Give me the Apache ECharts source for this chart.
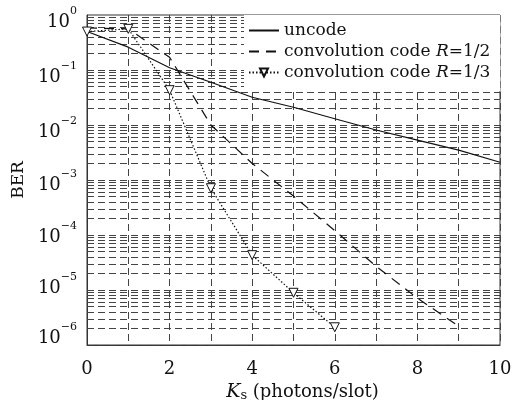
<!DOCTYPE html>
<html>
<head>
<meta charset="utf-8">
<script src="https://cdn.jsdelivr.net/npm/echarts@6/dist/echarts.min.js"></script>
<style>
html, body { margin: 0; padding: 0; background: #fff; }
#main { width: 512px; height: 400px; }
</style>
</head>
<body>
<div id="main"></div>
<script>
// Ks (photons/slot)
var ks = [0, 1, 2, 3, 4, 5, 6, 7, 8, 9, 10];
// BER values
var uncode = [0.5, 0.26, 0.11, 0.06, 0.032, 0.021, 0.013, 0.0081, 0.0053, 0.0035, 0.0021];
var conv12 = [0.58, 0.56, 0.17, 0.01, 0.002, 0.00051, 0.00012, 0.000027, 0.0000071, 0.0000022];
var conv13 = [0.5, 0.56, 0.043, 0.00071, 0.000043, 0.0000089, 0.0000021];
var seriesNames = ['uncode', 'convolution code R=1/2', 'convolution code R=1/3'];
// minor grid: 1..9 x 10^n
var gridMults = [1, 2, 3, 4, 5, 6, 7, 8, 9];
var gridExps = [-6, -5, -4, -3, -2, -1];

var FONT = 'DejaVu Serif';
var GRIDCOL = '#444';
// how far each y label sits from its tick (the source figure squeezes them)
var labelShift = { '0': 7, '-1': 7, '-2': 7, '-3': 5, '-4': 2, '-5': -2, '-6': -7 };

function pairs(ys) {
    var out = [];
    for (var i = 0; i < ys.length; i++) out.push([ks[i], ys[i]]);
    return out;
}

function pad(o) {
    return o >= 0 ? [2 * o, 0, 0, 0] : [0, 0, -2 * o, 0];
}

var gridLines = [];
for (var e = 0; e < gridExps.length; e++) {
    for (var m = 0; m < gridMults.length; m++) {
        var v = gridMults[m] * Math.pow(10, gridExps[e]);
        gridLines.push({ coords: [[ks[0], v], [ks[ks.length - 1], v]] });
    }
}

var yRich = {};
for (var p = 0; p >= -6; p--) {
    var o = labelShift[String(p)];
    yRich['b' + (-p)] = { fontFamily: FONT, fontSize: 18, color: '#111', padding: pad(o) };
    yRich['s' + (-p)] = { fontFamily: FONT, fontSize: 11, color: '#111', padding: pad(o - 11) };
}

var legendData = [
    { name: seriesNames[0], itemStyle: { opacity: 0 } },
    { name: seriesNames[1], itemStyle: { opacity: 0 } },
    { name: seriesNames[2] }
];

var myChart = echarts.init(document.getElementById('main'));
myChart.setOption({
    animation: false,
    textStyle: { fontFamily: FONT, color: '#111' },
    grid: {
        left: 87, right: 12, top: 15, bottom: 55,
        outerBoundsMode: 'none',
        containLabel: false,
        show: true, borderColor: '#333', borderWidth: 1, backgroundColor: 'transparent'
    },
    legend: {
        data: legendData,
        orient: 'vertical',
        left: 244, top: 15,
        align: 'left',
        z: 10,
        backgroundColor: '#fff',
        padding: [7, 10, 10, 4],
        itemWidth: 30, itemHeight: 10, itemGap: 4,
        textStyle: {
            fontFamily: FONT, fontSize: 17, color: '#111',
            rich: { i: { fontFamily: FONT, fontSize: 17, fontStyle: 'italic', color: '#111' } }
        },
        formatter: function (name) {
            return name.replace(' R=', ' {i|R}=');
        }
    },
    xAxis: {
        type: 'value',
        min: 0, max: 10, interval: 1,
        name: '{k|K}{s|s}{t| (photons/slot)}',
        nameLocation: 'middle',
        nameGap: 36,
        nameTextStyle: {
            padding: [0, 0, 0, 18],
            rich: {
                k: { fontFamily: FONT, fontSize: 19, fontStyle: 'italic', color: '#111' },
                s: { fontFamily: FONT, fontSize: 13, color: '#111', padding: [7, 0, 0, 0] },
                t: { fontFamily: FONT, fontSize: 18, color: '#111' }
            }
        },
        axisLine: { lineStyle: { color: '#333' } },
        axisTick: { show: false },
        axisLabel: {
            fontFamily: FONT, fontSize: 18, color: '#111', margin: 15,
            formatter: function (v) { return v % 2 === 0 ? String(v) : ''; }
        },
        splitLine: { show: true, lineStyle: { color: GRIDCOL, type: [7, 4], width: 1 } }
    },
    yAxis: {
        type: 'log',
        logBase: 10,
        min: 1e-6, max: 1, interval: 1,
        name: 'BER',
        nameLocation: 'middle',
        nameGap: 44,
        nameTextStyle: { fontFamily: FONT, fontSize: 17, color: '#111' },
        axisLine: { lineStyle: { color: '#333' } },
        axisTick: { show: false },
        axisLabel: {
            margin: 10,
            formatter: function (v) {
                var p = Math.round(Math.log(v) / Math.LN10);
                var sup = p < 0 ? '\u2212' + (-p) : String(p);
                return '{b' + (-p) + '|10}{s' + (-p) + '|' + sup + '}';
            },
            rich: yRich
        },
        splitLine: { show: false }
    },
    series: [{
        name: 'grid',
        type: 'lines',
        coordinateSystem: 'cartesian2d',
        silent: true,
        z: 1,
        lineStyle: { color: GRIDCOL, type: [7, 4], width: 1, opacity: 1 },
        data: gridLines
    }, {
        name: seriesNames[0],
        type: 'line',
        z: 3,
        data: pairs(uncode),
        showSymbol: false, symbol: 'none',
        lineStyle: { color: '#111', width: 1.2, type: 'solid' },
        itemStyle: { color: '#111' }
    }, {
        name: seriesNames[1],
        type: 'line',
        z: 3,
        data: pairs(conv12),
        showSymbol: false, symbol: 'none',
        lineStyle: { color: '#111', width: 1.2, type: [10, 7] },
        itemStyle: { color: '#111' }
    }, {
        name: seriesNames[2],
        type: 'line',
        z: 3,
        data: pairs(conv13),
        symbol: 'triangle', symbolRotate: 180, symbolSize: 9,
        lineStyle: { color: '#111', width: 1.2, type: [1.5, 2] },
        itemStyle: { color: '#fff', borderColor: '#111', borderWidth: 1 }
    }]
});
</script>
</body>
</html>
